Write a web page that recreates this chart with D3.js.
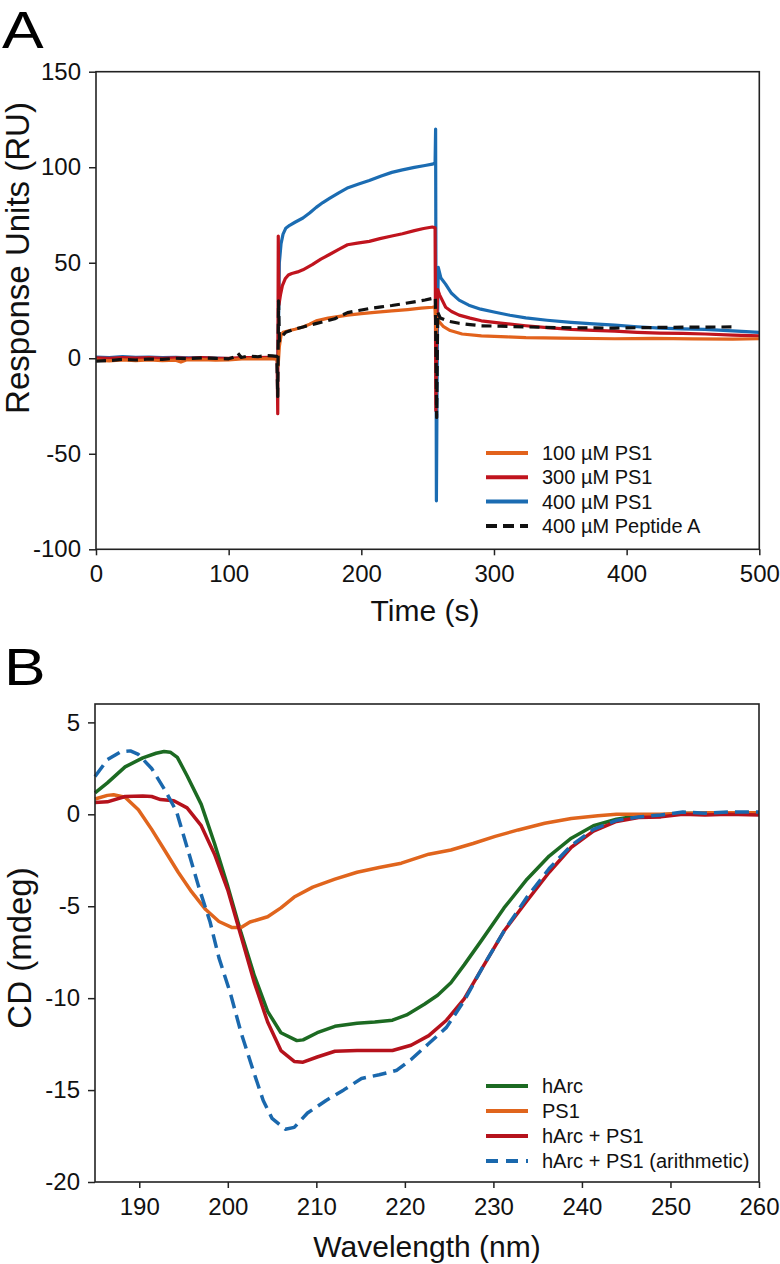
<!DOCTYPE html>
<html>
<head>
<meta charset="utf-8">
<script src="https://cdn.jsdelivr.net/npm/d3@7"></script>
<style>
  body { margin: 0; background: #fff; }
  svg { display: block; font-family: "Liberation Sans", Arial, sans-serif; }
  .tick text { font-size: 24px; fill: #111; }
  .tick line { stroke: #222; stroke-width: 1.5; }
</style>
</head>
<body>
<svg id="chart" width="780" height="1264"></svg>
<script>
'use strict';

// ---- Panel A: SPR sensorgram, [time (s), response (RU)]
const timeTicks = [0, 100, 200, 300, 400, 500];
const ruTicks = [-100, -50, 0, 50, 100, 150];

const ps1_100 = [[0,-1],[10,-1.4],[20,-0.8],[30,-1.2],[40,-0.9],[50,-1.3],[60,-1],[64,-2],[68,-0.9],[80,-0.7],[90,-1],[100,-0.8],[110,-0.4],[120,-0.3],[130,-0.2],[136.5,-0.5],[137.3,-4],[138.2,6],[139.5,12],[141,13.6],[146,14.5],[150,15.2],[156,16.4],[161,17.8],[166,19.6],[175,21],[189.6,22.6],[200,23.4],[210,24],[223,24.8],[235,25.5],[245,26.2],[253.5,26.7],[255.6,26.9],[256.4,12],[257,21],[258.6,19.2],[262,16.5],[267,14.5],[276,12.7],[290.5,11.7],[310,11.2],[324,10.8],[350,10.5],[391,10.2],[420,10.4],[450,10.1],[480,10],[500,10.2]];

const ps1_300 = [[0,0.2],[10,0],[20,0.4],[30,0.1],[40,0.3],[50,-0.1],[60,0.2],[70,0],[80,0.3],[90,-0.1],[100,0],[110,0.4],[120,0.3],[130,0.5],[136.5,0.3],[137,-29],[137.4,64],[137.9,28],[139,33],[140.5,38],[142.6,41.6],[145,43.6],[147.6,44.4],[152,45.2],[156,46.3],[163,49],[169.5,51.9],[176,54.3],[183,57],[189.6,59.4],[197,60.3],[206,61.2],[214,62.6],[223,64],[231,65.2],[240,66.8],[247,67.9],[253.5,68.7],[255.6,68.3],[256.2,-27.5],[256.9,20],[257.6,36],[259,33.2],[263.6,26.7],[268,24.5],[273.7,22.6],[282,21],[290.5,19.6],[305,18.4],[324,17],[340,16],[358,15.1],[375,14.6],[391,14.2],[408,13.6],[425,13.2],[442,13],[459,12.7],[480,12.1],[500,11.7]];

const ps1_400 = [[0,0.6],[10,0.4],[20,0.9],[30,0.5],[40,0.6],[50,0.3],[60,0.5],[70,0.2],[80,0.4],[90,0.1],[100,-0.2],[104,-0.5],[108,0.3],[115,0.2],[125,0.3],[136.5,0.2],[137.3,2],[138.2,50],[139.5,60],[141,65],[143,68],[146,69.6],[150,71.2],[156,73.4],[161,76],[166,79],[171,81.5],[176,83.7],[183,86.6],[190,89.3],[198,91.2],[206,93],[215,95.4],[223,97.3],[231,98.6],[240,99.9],[248,100.9],[253.5,101.6],[255.6,102.2],[256,120],[256.6,-74.6],[257.3,10],[258,47.6],[260,42],[263.5,38.8],[268,34],[273.7,30.4],[281,27.8],[290,25.7],[300,24.2],[312,22.5],[324,21.1],[340,19.9],[358,18.8],[375,18],[391,17.3],[408,16.5],[425,15.8],[442,15.4],[459,15.1],[480,14.3],[500,13.6]];

const peptideA_400 = [[0,-1.5],[10,-1.2],[20,-0.6],[30,-0.9],[40,-0.4],[50,-0.6],[60,0],[70,-0.2],[80,0.2],[90,-0.1],[100,-0.3],[104,0.6],[107,2.6],[109.5,0.4],[115,1.2],[122,0.8],[128,1.4],[133,1.2],[136.3,1],[137,-20],[137.6,30],[138.3,9],[140,11.5],[143,13.6],[148,14.8],[156,16.4],[165,18],[172,19.2],[180,20.7],[189.6,23.9],[198,25],[206.5,26.1],[215,26.9],[223,27.6],[232,28.6],[240,29.5],[248,30.5],[253.5,31.3],[255.8,32],[256.8,-31],[257.6,24],[259.5,21.1],[265,19.5],[273.7,18.3],[282,17.6],[290.5,17],[305,16.8],[324,16.4],[350,16],[391,15.8],[420,16.1],[450,16.3],[480.5,16.4]];

// ---- Panel B: CD spectra, [wavelength (nm), CD (mdeg)]
const nmTicks = [190, 200, 210, 220, 230, 240, 250, 260];
const cdTicks = [-20, -15, -10, -5, 0, 5];

const hArc = [[185,1.17],[186.4,1.71],[188.4,2.58],[190.4,3.07],[191.9,3.32],[192.8,3.42],[193.5,3.38],[194.3,3.1],[195.4,2.1],[197,0.54],[198.5,-1.59],[200,-3.92],[201.5,-6.45],[203,-8.78],[204.5,-10.72],[206,-11.88],[207.8,-12.31],[208.5,-12.27],[210.1,-11.88],[212.1,-11.53],[214.6,-11.36],[216.6,-11.3],[218.6,-11.2],[220.2,-10.91],[222.2,-10.33],[223.7,-9.84],[225.2,-9.16],[226.7,-8.19],[228.7,-6.83],[231.2,-5.09],[233.8,-3.53],[236.3,-2.27],[238.8,-1.3],[241.3,-0.62],[243.9,-0.27],[246.4,-0.08],[248.9,-0.04],[251.4,0.06],[253.9,0.04],[256.5,0.08],[260,0]];

const ps1 = [[185,0.83],[186.4,1.03],[187.1,1.06],[188.4,0.93],[189.9,0.25],[191.4,-0.82],[192.9,-1.98],[194.4,-3.15],[195.9,-4.21],[197.5,-5.18],[199,-5.83],[200.5,-6.16],[201.5,-6.16],[202.5,-5.86],[204.5,-5.57],[206,-5.09],[207.5,-4.5],[209.6,-3.96],[212.1,-3.53],[214.6,-3.15],[217.1,-2.89],[219.6,-2.66],[222.7,-2.17],[225.2,-1.94],[227.7,-1.59],[230.2,-1.2],[232.8,-0.85],[235.8,-0.49],[238.8,-0.23],[241.8,-0.08],[243.9,0],[248.9,0],[253.9,0.08],[260,0.08]];

const hArcPS1 = [[185,0.64],[186.4,0.68],[188.4,0.97],[190.4,0.99],[191.4,0.97],[192.4,0.8],[193.9,0.74],[195.4,0.35],[197,-0.62],[198.5,-2.17],[200,-4.12],[201.5,-6.64],[203,-9.16],[204.5,-11.3],[206,-12.85],[207.5,-13.44],[208.5,-13.48],[210.1,-13.2],[212.1,-12.89],[214.6,-12.85],[218.6,-12.85],[220.7,-12.56],[222.7,-12.04],[224.7,-11.2],[226.7,-10.04],[228.7,-8.4],[231.2,-6.35],[233.8,-4.7],[236.3,-3.15],[238.8,-1.79],[241.3,-0.91],[243.9,-0.39],[246.4,-0.17],[248.9,-0.14],[251.4,0],[253.9,-0.04],[256.5,0],[260,-0.04]];

const hArcPS1Arith = [[185,2.06],[186.4,2.97],[187.9,3.4],[189,3.45],[189.9,3.26],[191.4,2.49],[192.9,1.32],[194.2,0.16],[195.4,-1.79],[196.7,-3.92],[198,-5.86],[199,-7.81],[200.3,-9.75],[201.5,-11.88],[202.8,-13.83],[204,-15.57],[205,-16.54],[206.5,-17.13],[207.5,-17.03],[209,-16.25],[211.1,-15.57],[213.1,-14.99],[215.1,-14.37],[217.1,-14.17],[219.1,-13.92],[220.7,-13.34],[222.7,-12.47],[224.7,-11.59],[226.7,-10.14],[228.7,-8.39],[231.2,-6.35],[233.8,-4.5],[236.3,-2.95],[238.8,-1.69],[241.3,-0.82],[243.9,-0.33],[246.4,-0.14],[248.9,-0.04],[251.4,0.12],[253.9,0.06],[256.5,0.12],[260,0.12]];

const svg = d3.select('#chart');
const font = '"Liberation Sans", Arial, sans-serif';

function panel(opts) {
  const x = d3.scaleLinear().domain(opts.xDomain).range(opts.xRange);
  const y = d3.scaleLinear().domain(opts.yDomain).range(opts.yRange);
  const g = svg.append('g');
  const fmt = d => String(d);

  // series, in drawing order
  opts.series.forEach(s => {
    const line = d3.line().x(d => x(d[0])).y(d => y(d[1]));
    g.append('path')
      .datum(s.data)
      .attr('d', line)
      .attr('fill', 'none')
      .attr('stroke', s.color)
      .attr('stroke-width', opts.lineWidth)
      .attr('stroke-linejoin', 'round')
      .attr('stroke-dasharray', s.dash || null);
  });

  // frame
  g.append('rect')
    .attr('x', opts.xRange[0])
    .attr('y', opts.yRange[1])
    .attr('width', opts.xRange[1] - opts.xRange[0])
    .attr('height', opts.yRange[0] - opts.yRange[1])
    .attr('fill', 'none')
    .attr('stroke', '#222')
    .attr('stroke-width', 1.6);

  const xAxis = g.append('g')
    .attr('transform', `translate(0,${opts.yRange[0]})`)
    .call(d3.axisBottom(x).tickValues(opts.xTicks).tickFormat(fmt)
      .tickSize(6).tickSizeOuter(0).tickPadding(10));
  const yAxis = g.append('g')
    .attr('transform', `translate(${opts.xRange[0]},0)`)
    .call(d3.axisLeft(y).tickValues(opts.yTicks).tickFormat(fmt)
      .tickSize(7).tickSizeOuter(0).tickPadding(8));
  [xAxis, yAxis].forEach(a => {
    a.select('.domain').remove();
    a.attr('font-family', font).attr('font-size', 24);
  });

  // axis titles
  g.append('text')
    .attr('x', opts.xTitlePos[0])
    .attr('y', opts.xTitlePos[1])
    .attr('text-anchor', 'middle')
    .attr('font-size', 30)
    .attr('fill', '#111')
    .text(opts.xTitle);
  g.append('text')
    .attr('transform', `translate(${opts.yTitlePos[0]},${opts.yTitlePos[1]}) rotate(-90)`)
    .attr('text-anchor', 'middle')
    .attr('font-size', 33)
    .attr('fill', '#111')
    .text(opts.yTitle);

  // panel letter
  g.append('text')
    .attr('transform', `translate(${opts.letterPos[0]},${opts.letterPos[1]}) scale(1.2,1)`)
    .attr('font-size', 52)
    .attr('fill', '#000')
    .text(opts.letter);

  // legend
  const leg = g.append('g');
  opts.legend.forEach((s, i) => {
    const ly = opts.legendY + i * opts.legendStep;
    leg.append('line')
      .attr('x1', 486).attr('x2', 528)
      .attr('y1', ly).attr('y2', ly)
      .attr('stroke', s.color)
      .attr('stroke-width', 4)
      .attr('stroke-dasharray', s.legendDash || null);
    leg.append('text')
      .attr('x', 542).attr('y', ly)
      .attr('dy', '0.35em')
      .attr('font-size', 20)
      .attr('fill', '#111')
      .text(s.name);
  });
}

const seriesA = {
  o: { name: '100 µM PS1', data: ps1_100, color: '#e2621c' },
  r: { name: '300 µM PS1', data: ps1_300, color: '#c0141e' },
  b: { name: '400 µM PS1', data: ps1_400, color: '#1b6cb2' },
  k: { name: '400 µM Peptide A', data: peptideA_400, color: '#111', dash: '10,6', legendDash: '11,6' }
};

panel({
  xDomain: [0, 500], xRange: [96, 759.3],
  yDomain: [-100, 150], yRange: [549.3, 71.7],
  xTicks: timeTicks, yTicks: ruTicks,
  series: [seriesA.b, seriesA.r, seriesA.o, seriesA.k],
  legend: [seriesA.o, seriesA.r, seriesA.b, seriesA.k],
  legendY: 453, legendStep: 24.3,
  lineWidth: 3.2,
  xTitle: 'Time (s)', xTitlePos: [425, 621],
  yTitle: 'Response Units (RU)', yTitlePos: [29, 258],
  letter: 'A', letterPos: [2, 48]
});

const seriesB = {
  g: { name: 'hArc', data: hArc, color: '#1c6a22' },
  o: { name: 'PS1', data: ps1, color: '#e0651d' },
  r: { name: 'hArc + PS1', data: hArcPS1, color: '#b5121c' },
  b: { name: 'hArc + PS1 (arithmetic)', data: hArcPS1Arith, color: '#1a68ad', dash: '14,7', legendDash: '12,8' }
};

panel({
  xDomain: [185, 260], xRange: [95, 759],
  yDomain: [-20, 6], yRange: [1182, 704],
  xTicks: nmTicks, yTicks: cdTicks,
  series: [seriesB.g, seriesB.o, seriesB.r, seriesB.b],
  legend: [seriesB.g, seriesB.o, seriesB.r, seriesB.b],
  legendY: 1086, legendStep: 25,
  lineWidth: 3.5,
  xTitle: 'Wavelength (nm)', xTitlePos: [427, 1257],
  yTitle: 'CD (mdeg)', yTitlePos: [31, 948],
  letter: 'B', letterPos: [4, 685]
});
</script>
</body>
</html>
